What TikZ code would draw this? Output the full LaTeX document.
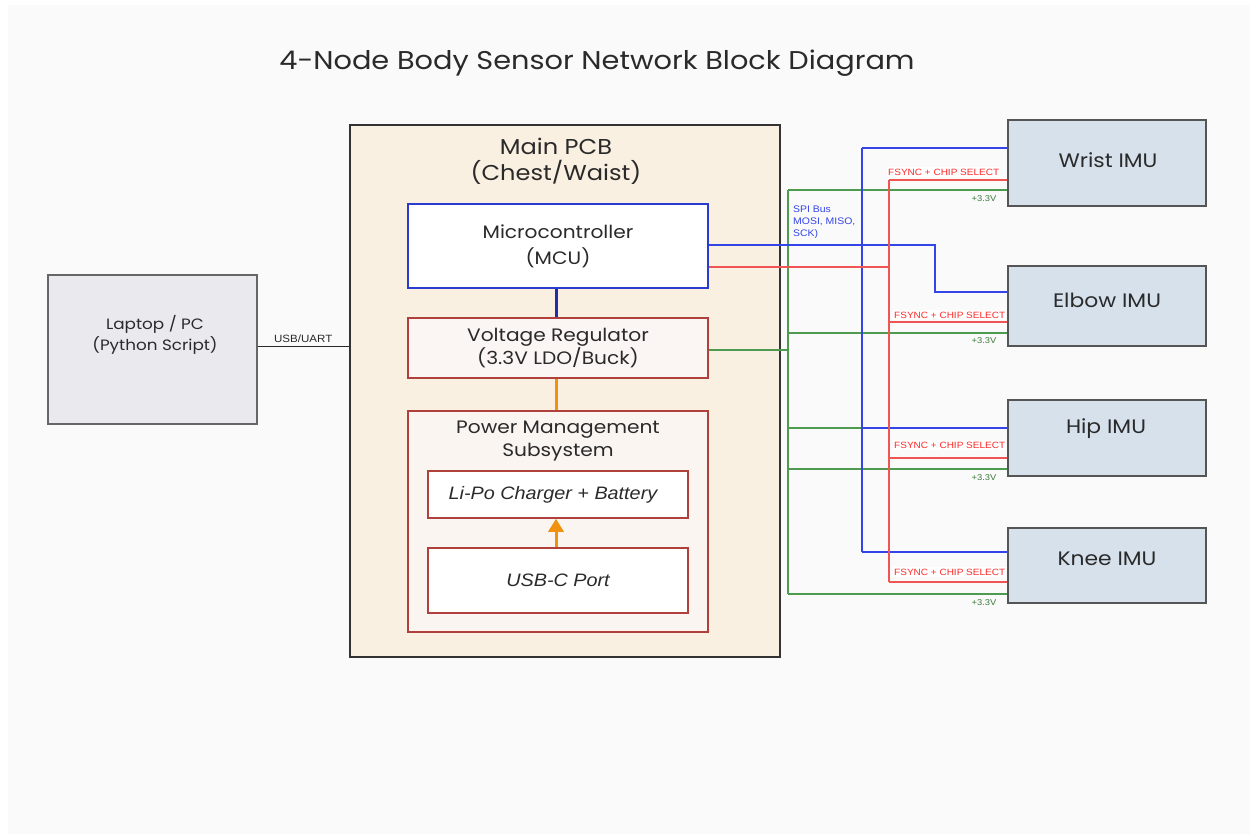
\documentclass[tikz,border=0pt]{standalone}
\usepackage{fontspec}
\setmainfont{Poppins}[FakeStretch=1.12]
\newfontfamily\arialf{Liberation Sans}[FakeStretch=1.1]
\usetikzlibrary{arrows.meta}
\definecolor{bgc}{HTML}{FAFAFA}
\definecolor{pcbfill}{HTML}{FAF0E1}
\definecolor{pcbdraw}{HTML}{333333}
\definecolor{mcublue}{HTML}{2A3BD0}
\definecolor{redbd}{HTML}{B0403C}
\definecolor{vrfill}{HTML}{FBF5F3}
\definecolor{pmfill}{HTML}{FAF5F1}
\definecolor{lapfill}{HTML}{E9E9EE}
\definecolor{lapdraw}{HTML}{666666}
\definecolor{imufill}{HTML}{D6E1EC}
\definecolor{imudraw}{HTML}{555555}
\definecolor{spic}{HTML}{3344E8}
\definecolor{fsc}{HTML}{F05555}
\definecolor{fstext}{HTML}{FF2A2A}
\definecolor{pwc}{HTML}{4E9A4E}
\definecolor{pwtext}{HTML}{3C7A3C}
\definecolor{darkblue}{HTML}{1F2FA8}
\definecolor{orangec}{HTML}{F0920E}
\definecolor{txt}{HTML}{2A2A2A}
\begin{document}
\begin{tikzpicture}[x=1pt,y=-1pt,
  blk/.style={rectangle, inner sep=0pt, anchor=center},
  txtnode/.style={inner sep=0pt, text=txt, align=center},
  spi/.style={draw=spic, line width=1.4pt},
  fs/.style={draw=fsc, line width=1.4pt},
  pw/.style={draw=pwc, line width=1.1pt},
  fslbl/.style={font=\arialf\fontsize{9.1}{10}\selectfont, text=fstext, fill=white, inner xsep=1pt, inner ysep=1.5pt, anchor=west},
  pwlbl/.style={font=\arialf\fontsize{8.5}{9}\selectfont, text=pwtext, inner sep=0pt},
  imu/.style={blk, draw=imudraw, fill=imufill, line width=1.3pt, minimum width=198pt},
  imutxt/.style={txtnode, font=\fontsize{19.5}{22}\selectfont}
]
\useasboundingbox (0,0) rectangle (1250,834);
\fill[bgc] (8,5) rectangle (1250,834);

% title
\node[txtnode, font=\fontsize{25.7}{30}\selectfont] (title) at (597,63) {4-Node Body Sensor Network Block Diagram};

% Main PCB
\node[blk, draw=pcbdraw, fill=pcbfill, line width=2.3pt, minimum width=430pt, minimum height=532pt] (pcb) at (565,391) {};
\node[txtnode, font=\fontsize{21.5}{26}\selectfont] (pcbtitle) at (556,161) {Main PCB\\(Chest/Waist)};

\node[blk, draw=mcublue, fill=white, line width=1.6pt, minimum width=300pt, minimum height=84pt, align=center, text=txt, font=\fontsize{18}{26}\selectfont] (mcu) at (558,246) {Microcontroller\\(MCU)};
\node[blk, draw=redbd, fill=vrfill, line width=1.6pt, minimum width=300pt, minimum height=60pt, align=center, text=txt, font=\fontsize{18}{23.5}\selectfont] (vr) at (558,348) {\raisebox{-2.5pt}{\parbox{250pt}{\centering Voltage Regulator\\(3.3V LDO/Buck)}}};
\node[blk, draw=redbd, fill=pmfill, line width=1.6pt, minimum width=300pt, minimum height=221pt] (pm) at (558,521.5) {};
\node[txtnode, font=\fontsize{18}{23}\selectfont] (pmtitle) at (558,441) {Power Management\\Subsystem};
\node[blk, draw=redbd, fill=white, line width=1.5pt, minimum width=260pt, minimum height=47pt, text=txt, font=\arialf\itshape\fontsize{18}{20}\selectfont] (lipo) at (558,494.5) {\hspace*{-10pt}Li-Po Charger + Battery};
\node[blk, draw=redbd, fill=white, line width=1.5pt, minimum width=260pt, minimum height=65pt, text=txt, font=\arialf\itshape\fontsize{18}{20}\selectfont] (usbc) at (558,580.5) {USB-C Port};

\draw[darkblue, line width=3pt] ([xshift=-2pt]mcu.south) -- ([xshift=-2pt]vr.north);
\draw[orangec, line width=3pt] ([xshift=-2pt]vr.south) -- ([xshift=-2pt]pm.north);
\draw[orangec, line width=3pt, -{Triangle[width=15pt,length=13pt]}] ([xshift=-2pt]usbc.north) -- ([xshift=-2pt]lipo.south);

% Laptop
\node[blk, draw=lapdraw, fill=lapfill, line width=1.3pt, minimum width=209pt, minimum height=149pt] (laptop) at (152.5,349.5) {};
\node[txtnode, font=\fontsize{15}{20.5}\selectfont] (laptxt) at (155,335) {Laptop / PC\\(Python Script)};
\draw[txt, line width=1pt] (laptop.east |- 0,346) -- (pcb.west |- 0,346) node[pos=0.5, above=2.5pt, inner sep=0pt, font=\arialf\fontsize{10.5}{11}\selectfont, text=txt] (usblbl) {USB/UART};

% IMUs
\node[imu, minimum height=86pt] (wrist) at (1107,163) {};
\node[imu, minimum height=80pt] (elbow) at (1107,306) {};
\node[imu, minimum height=76pt] (hip) at (1107,438) {};
\node[imu, minimum height=75pt] (knee) at (1107,565.5) {};
\node[imutxt] (wristtxt) at (1108,160) {Wrist IMU};
\node[imutxt] (elbowtxt) at (1107,300) {Elbow IMU};
\node[imutxt] (hiptxt) at (1106,429) {Hip IMU};
\node[imutxt] (kneetxt) at (1107,559) {Knee IMU};

% bus coordinates
\coordinate (pwT) at (788,190);
\coordinate (pwB) at (788,594);
\coordinate (spT) at (862,148);
\coordinate (spB) at (862,552);
\coordinate (fsT) at (889,180);
\coordinate (fsB) at (889,582);
\coordinate (spE) at (935,292);

% power (green)
\draw[pw] (vr.east |- 0,350) -- (788,350);
\draw[pw] (pwT) -- (pwB);
\draw[pw] (pwT) -- (pwT -| wrist.west);
\draw[pw] (788,333) -- (elbow.west |- 0,333);
\draw[pw] (788,428) -- (hip.west |- 0,428);
\draw[pw] (788,469) -- (hip.west |- 0,469);
\draw[pw] (pwB) -- (pwB -| knee.west);

% SPI (blue)
\draw[spi] (mcu.east |- 0,245) -| (spE) -- (spE -| elbow.west);
\draw[spi] (spT) -- (spB);
\draw[spi] (spT) -- (spT -| wrist.west);
\draw[spi] (862,428) -- (hip.west |- 0,428);
\draw[spi] (spB) -- (spB -| knee.west);

% FSYNC (red)
\draw[fs] (mcu.east |- 0,267) -- (889,267);
\draw[fs] (fsT) -- (fsB);
\draw[fs] (fsT) -- (fsT -| wrist.west);
\draw[fs] (889,322) -- (elbow.west |- 0,322);
\draw[fs] (889,458) -- (hip.west |- 0,458);
\draw[fs] (fsB) -- (fsB -| knee.west);

% labels
\node[fslbl] (fsl1) at (887,172) {FSYNC + CHIP SELECT};
\node[fslbl] (fsl2) at (893,315) {FSYNC + CHIP SELECT};
\node[fslbl] (fsl3) at (893,445) {FSYNC + CHIP SELECT};
\node[fslbl] (fsl4) at (893,572) {FSYNC + CHIP SELECT};
\node[pwlbl] (pwl1) at (984,199) {+3.3V};
\node[pwlbl] (pwl2) at (984,341) {+3.3V};
\node[pwlbl] (pwl3) at (984,478) {+3.3V};
\node[pwlbl] (pwl4) at (984,603) {+3.3V};
\node[inner sep=0pt, anchor=north west, align=left, text=spic, font=\arialf\fontsize{9.5}{12}\selectfont] (spilbl) at (793,206) {SPI Bus\\MOSI, MISO,\\SCK)};
\end{tikzpicture}
\end{document}
